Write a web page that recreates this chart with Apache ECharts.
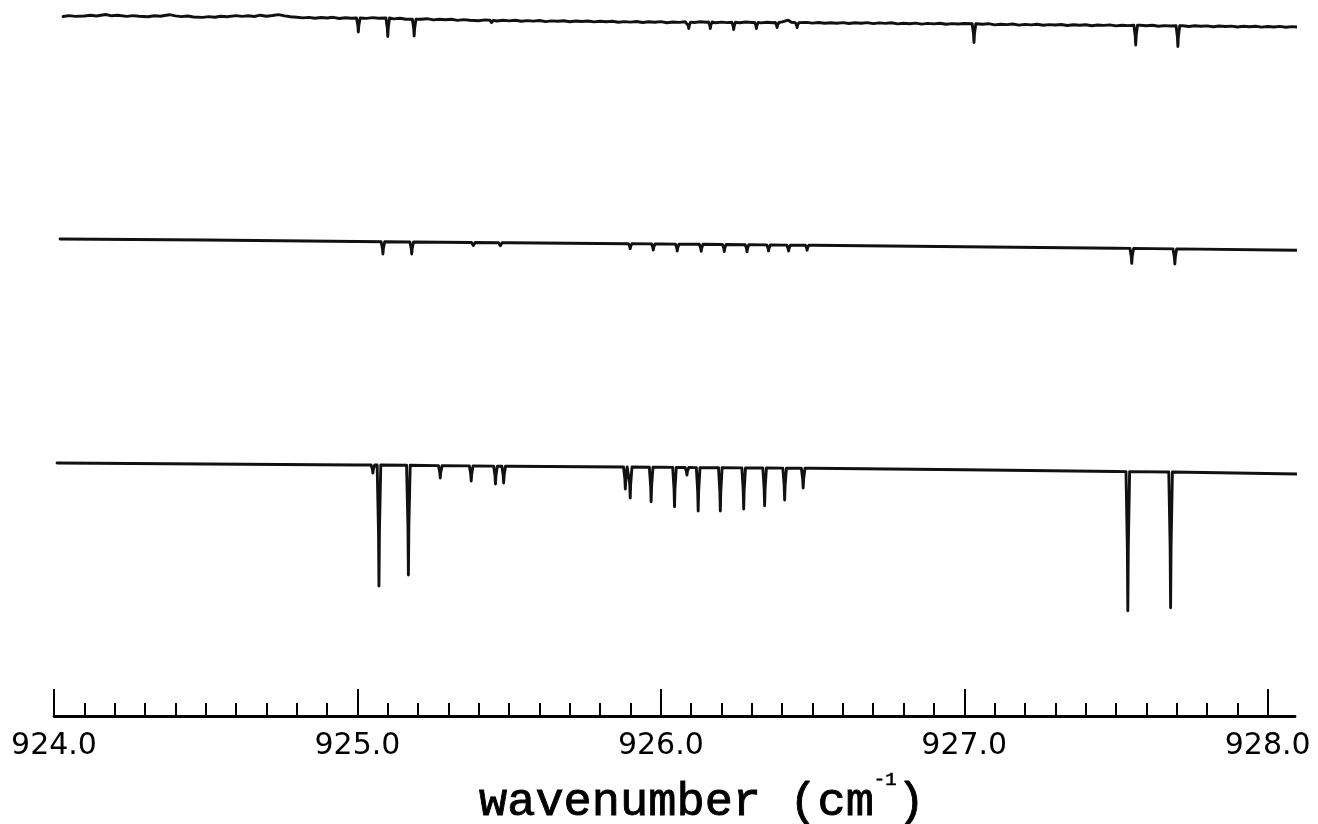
<!DOCTYPE html>
<html>
<head>
<meta charset="utf-8">
<script src="https://cdn.jsdelivr.net/npm/echarts@6/dist/echarts.min.js"></script>
<style>
html,body{margin:0;padding:0;background:#fff;}
#chart{width:1318px;height:824px;}
</style>
</head>
<body>
<div id="chart"></div>
<script>
// ---------- DATA ----------
// x axis (wavenumber, cm^-1)
var xTickValues = [924.0, 925.0, 926.0, 927.0, 928.0];
var xTickLabels = ['924.0', '925.0', '926.0', '927.0', '928.0'];

// Trace levels: vertical position in display units (0 = top of plot, larger = lower)
// Top trace: baseline (noisy) knots [wavenumber, level]
var topBaseline = [
  [924.03,16.5],[924.05,15.6],[924.07,16.4],[924.10,16.0],[924.12,15.2],[924.14,16.0],[924.17,14.5],[924.19,15.8],
  [924.21,15.2],[924.24,16.4],[924.26,15.6],[924.28,16.3],[924.31,16.8],[924.33,15.7],[924.35,16.2],[924.38,14.7],
  [924.40,15.9],[924.42,16.6],[924.44,16.0],[924.46,17.0],[924.49,17.4],[924.51,16.6],[924.53,17.2],[924.55,16.2],
  [924.57,16.8],[924.60,15.6],[924.62,16.4],[924.64,15.8],[924.66,16.5],[924.68,15.2],[924.70,16.2],[924.72,15.5],
  [924.74,14.6],[924.76,15.9],[924.78,16.8],[924.80,17.2],[924.82,17.9],[924.84,17.4],[924.86,18.2],[924.88,17.5],
  [924.90,18.0],[924.92,17.3],[924.94,18.5],[924.96,17.8],[924.98,18.3],[925.03,18.4],[925.05,17.6],[925.07,18.2],
  [925.12,18.9],[925.14,18.3],[925.16,19.3],[925.21,19.2],[925.23,18.7],[925.25,19.9],[925.27,19.2],[925.29,19.8],
  [925.31,19.3],[925.33,20.4],[925.35,19.6],[925.37,20.2],[925.40,20.8],[925.42,19.9],[925.46,21.0],[925.48,20.3],
  [925.50,20.9],[925.52,20.2],[925.54,21.3],[925.56,20.6],[925.58,21.1],[925.60,20.5],[925.62,21.6],[925.64,20.9],
  [925.66,21.3],[925.68,20.7],[925.70,21.7],[925.72,21.0],[925.74,21.5],[925.76,21.0],[925.78,21.9],[925.80,21.3],
  [925.82,21.8],[925.84,21.2],[925.86,22.3],[925.88,21.6],[925.90,22.1],[925.92,21.5],[925.94,22.5],[925.96,21.8],
  [925.98,22.2],[926.00,21.6],[926.02,22.7],[926.04,22.0],[926.06,22.4],[926.08,21.8],[926.11,22.5],[926.13,21.8],
  [926.15,22.3],[926.18,22.8],[926.20,22.1],[926.22,22.6],[926.26,22.7],[926.28,22.0],[926.30,22.5],[926.33,22.9],
  [926.35,22.3],[926.37,22.8],[926.40,21.9],[926.42,20.2],[926.43,22.2],[926.46,23.0],[926.48,22.4],[926.50,23.1],
  [926.52,22.5],[926.54,23.3],[926.56,22.7],[926.58,23.2],[926.60,22.6],[926.62,23.5],[926.64,22.8],[926.66,23.3],
  [926.68,22.6],[926.70,23.6],[926.72,22.9],[926.74,23.4],[926.76,22.8],[926.78,23.9],[926.80,23.2],[926.82,23.7],
  [926.84,23.1],[926.86,24.1],[926.88,23.4],[926.90,23.9],[926.92,23.3],[926.94,24.3],[926.96,23.6],[926.98,24.0],
  [927.00,23.5],[927.06,24.3],[927.08,23.7],[927.10,24.9],[927.12,24.2],[927.14,24.6],[927.16,24.0],[927.18,25.1],
  [927.20,24.4],[927.22,24.9],[927.24,24.3],[927.26,25.3],[927.28,24.6],[927.30,25.0],[927.32,24.5],[927.34,25.5],
  [927.36,24.8],[927.38,25.3],[927.40,24.7],[927.42,25.7],[927.44,25.0],[927.46,25.4],[927.48,24.9],[927.50,25.9],
  [927.52,25.2],[927.54,25.6],[927.58,25.2],[927.60,25.8],[927.62,25.3],[927.64,26.3],[927.66,25.6],[927.68,26.0],
  [927.72,25.7],[927.74,26.5],[927.76,25.8],[927.78,26.3],[927.80,25.9],[927.82,26.8],[927.84,26.0],[927.86,26.5],
  [927.88,26.1],[927.90,27.0],[927.92,26.2],[927.94,26.8],[927.96,26.3],[927.98,27.1],[928.00,26.5],[928.02,27.0],
  [928.04,26.4],[928.06,27.3],[928.08,26.6],[928.10,27.1],[928.12,27.0]
];
// Top trace absorption lines [wavenumber, level at line top, level at line bottom]
var topPeaks = [
  [925.003,18.0,32],[925.100,18.0,36.5],[925.187,19.2,36],[925.443,20.3,24.5],
  [926.092,22.1,28.5],[926.163,22.0,28.5],[926.240,22.3,29.5],[926.315,22.4,28.5],
  [926.383,22.5,27.5],[926.449,22.6,27.5],[927.032,23.8,42.5],[927.565,25.3,45],
  [927.704,25.8,46.5]
];

// Middle trace
var midBaseline = [
  [924.02,239.0],[924.5,240.0],[925.0,241.5],[925.5,242.8],[926.0,244.0],
  [926.5,245.3],[927.0,246.8],[927.5,248.3],[928.11,250.3]
];
var midPeaks = [
  [925.084,241.8,254],[925.179,242.0,254],[925.382,242.5,245.5],[925.471,242.7,245.7],
  [925.899,243.7,248.7],[925.975,243.9,250],[926.054,244.1,251],[926.133,244.3,251.3],
  [926.209,244.5,251.5],[926.284,244.7,251.7],[926.355,244.9,250.9],[926.421,245.1,251.1],
  [926.482,245.2,250.2],[927.552,248.4,263.3],[927.694,248.9,264]
];

// Bottom trace
var botBaseline = [
  [924.01,463.0],[924.5,464.0],[925.0,465.0],[925.5,466.2],[926.0,467.3],
  [926.5,468.3],[927.0,469.8],[927.5,471.5],[928.10,474.0]
];
var botPeaks = [
  [925.051,465.0,473],[925.071,465.0,586],[925.168,465.3,575],[925.273,465.6,478],
  [925.375,465.9,481],[925.455,466.1,484],[925.482,466.2,483],[925.883,467.0,489],
  [925.899,467.0,498],[925.968,467.2,501.7],[926.045,467.4,506.7],[926.086,467.5,475],
  [926.123,467.6,511],[926.196,467.7,511],[926.273,467.9,509],[926.342,468.0,505.7],
  [926.408,468.1,500],[926.469,468.2,488],[927.539,471.6,610.7],[927.680,472.0,607.7]
];

// ---------- build line data ----------
var HW = 0.006; // half width of a drawn line profile (style)
function buildTrace(baseline, peaks) {
  var pts = [];
  baseline.forEach(function (k) {
    var inside = peaks.some(function (p) { return Math.abs(p[0] - k[0]) < HW * 1.6; });
    if (!inside) pts.push([k[0], k[1]]);
  });
  peaks.forEach(function (p) {
    pts.push([p[0] - HW, p[1]]);
    pts.push([p[0] - HW * 0.25, p[1] + (p[2] - p[1]) * 0.55]);
    pts.push([p[0], p[2]]);
    pts.push([p[0] + HW * 0.25, p[1] + (p[2] - p[1]) * 0.55]);
    pts.push([p[0] + HW, p[1]]);
  });
  pts.sort(function (a, b) { return a[0] - b[0]; });
  return pts;
}

var lineStyle = { color: '#111', width: 2.9, join: 'round', cap: 'round' };
function series(data) {
  return {
    type: 'line', data: data, showSymbol: false, symbol: 'none',
    clip: false, lineStyle: lineStyle, animation: false, silent: true
  };
}

var chart = echarts.init(document.getElementById('chart'), null, { renderer: 'canvas' });
chart.setOption({
  backgroundColor: '#fff',
  animation: false,
  grid: { left: 54, right: 23, top: 0, bottom: 108, outerBoundsMode: 'none', containLabel: false },
  title: {
    text: '{a|wavenumber (cm}{s|-1}{a|)}',
    left: 474, top: 765,
    textStyle: {
      fontWeight: 'normal',
      rich: {
        a: { fontFamily: 'Liberation Mono', fontSize: 47, fontWeight: 'normal', color: '#000', lineHeight: 56, verticalAlign: 'bottom', textBorderColor: '#000', textBorderWidth: 0.9 },
        s: { fontFamily: 'Liberation Mono', fontSize: 19, fontWeight: 'normal', color: '#000', lineHeight: 18, verticalAlign: 'top', textBorderColor: '#000', textBorderWidth: 0.6 }
      }
    }
  },
  xAxis: {
    type: 'value', min: 924, max: 928.09, interval: 1,
    axisLine: { show: true, onZero: false, lineStyle: { color: '#000', width: 2.8 } },
    axisTick: { show: true, inside: true, length: 27, customValues: xTickValues, lineStyle: { color: '#000', width: 2 } },
    minorTick: { show: true, splitNumber: 10, length: 13, lineStyle: { color: '#000', width: 2 } },
    splitLine: { show: false },
    minorSplitLine: { show: false },
    axisLabel: {
      margin: 15, fontSize: 30, fontFamily: 'DejaVu Sans', color: '#000',
      customValues: xTickValues,
      formatter: function (v) {
        var i = xTickValues.indexOf(Math.round(v * 10) / 10);
        return i >= 0 ? xTickLabels[i] : '';
      }
    }
  },
  yAxis: { type: 'value', inverse: true, min: 0, max: 716, show: false, splitLine: { show: false } },
  series: [
    series(buildTrace(topBaseline, topPeaks)),
    series(buildTrace(midBaseline, midPeaks)),
    series(buildTrace(botBaseline, botPeaks))
  ]
});
</script>
</body>
</html>
